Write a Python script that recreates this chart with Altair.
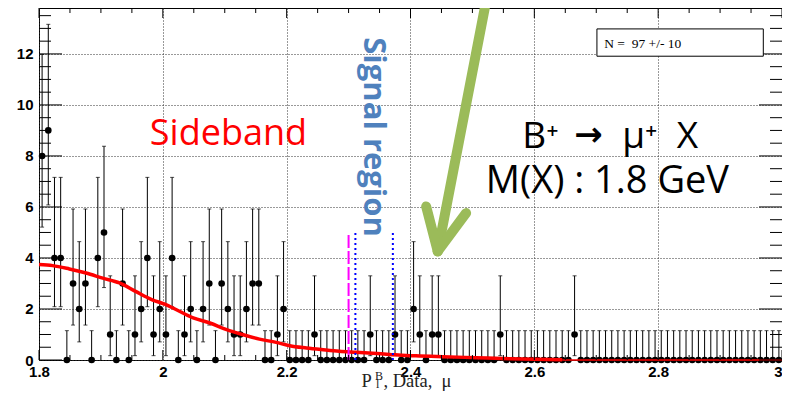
import altair as alt
import pandas as pd

# ---------------- data ----------------
bin_start = 1.8
bin_width = 0.01
counts = [
    8, 9, 4, 4, 0, 3, 2, 3, 0, 4,
    5, 1, 0, 3, 0, 1, 2, 4, 1, 2,
    1, 4, 0, 1, 2, 0, 2, 3, 0, 3,
    2, 1, 1, 2, 3, 3, 0, 0, 1, 2,
    0, 0, 0, 0, 1, 0, 0, 0, 0, 0,
    0, 0, 0, 1, 0, 0, 0, 1, 0, 0,
    2, 1, 0, 1, 1, 0, 0, 0, 0, 0,
    0, 0, 0, 0, 1, 0, 0, 0, 0, 0,
    0, 0, 0, 0, 0, 0, 1, 0, 0, 0,
    0, 0, 0, 0, 0, 0, 0, 0, 0, 0,
    0, 0, 0, 0, 0, 0, 0, 0, 0, 0,
    0, 0, 0, 0, 0, 0, 0, 0, 0, 0,
]
# Poisson error-bar ends as drawn, per count value
count_levels = [0, 1, 2, 3, 4, 5, 8, 9]
err_low_levels = [0.0, 0.17, 0.71, 1.37, 2.09, 2.84, 5.21, 6.08]
err_high_levels = [1.15, 3.30, 4.64, 5.92, 7.16, 8.38, 11.98, 13.16]

fit_x = [1.800, 1.822, 1.849, 1.876, 1.903, 1.930, 1.956, 1.983, 2.003, 2.022,
         2.049, 2.076, 2.103, 2.130, 2.156, 2.183, 2.205, 2.232, 2.259, 2.285,
         2.312, 2.339, 2.366, 2.393, 2.415, 2.452, 2.506, 2.560, 2.645]
fit_y = [3.74, 3.70, 3.57, 3.41, 3.21, 3.02, 2.69, 2.36, 2.19, 1.97,
         1.65, 1.45, 1.19, 0.99, 0.82, 0.69, 0.56, 0.47, 0.40, 0.34,
         0.30, 0.26, 0.22, 0.18, 0.16, 0.13, 0.09, 0.05, 0.01]
tail_x = [2.645, 3.0]
tail_y = [0.0, 0.0]

signal_x = [2.300, 2.311, 2.3715]
signal_kind = ["magenta", "blue", "blue"]
signal_top = 5.0

x_major = [1.8, 2.0, 2.2, 2.4, 2.6, 2.8, 3.0]
x_minor = [1.85, 1.9, 1.95, 2.05, 2.1, 2.15, 2.25, 2.3, 2.35, 2.45, 2.5, 2.55,
           2.65, 2.7, 2.75, 2.85, 2.9, 2.95]
y_major = [0, 2, 4, 6, 8, 10, 12]
y_minor = [0.5, 1, 1.5, 2.5, 3, 3.5, 4.5, 5, 5.5, 6.5, 7, 7.5, 8.5, 9, 9.5,
           10.5, 11, 11.5, 12.5, 13, 13.5]

# ---------------- tables ----------------
lo_map = dict(zip(count_levels, err_low_levels))
hi_map = dict(zip(count_levels, err_high_levels))
hist = pd.DataFrame({
    "x": [bin_start + bin_width * (i + 0.5) for i in range(len(counts))],
    "n": counts,
})
hist["lo"] = [lo_map[c] for c in counts]
hist["hi"] = [hi_map[c] for c in counts]

fit = pd.DataFrame({"x": fit_x, "y": fit_y})
tail = pd.DataFrame({"x": tail_x, "y": tail_y})
sig = pd.DataFrame({"x": signal_x, "kind": signal_kind, "y0": 0.0, "y1": signal_top})

W, H = 743, 352
xs = alt.Scale(domain=[1.8, 3.0], nice=False, zero=False)
ys = alt.Scale(domain=[0, 13.8], nice=False, zero=False)

xaxis = alt.Axis(values=x_major, format="~g", labelFont="Liberation Sans",
                 labelFontWeight="bold", labelFontSize=15, labelColor="black",
                 labelAlign=alt.expr("datum.value >= 3 ? 'right' : 'center'"),
                 ticks=False, domain=False, grid=True, gridDash=[1, 2],
                 gridColor="#333", gridWidth=1, labelPadding=4, labelFlush=False)
yaxis = alt.Axis(values=y_major, labelFont="Liberation Sans",
                 labelFontWeight="bold", labelFontSize=15, labelColor="black",
                 ticks=False, domain=False, grid=True, gridDash=[1, 2],
                 gridColor="#333", gridWidth=1, labelPadding=6)

def X(field):
    return alt.X(field, type="quantitative", scale=xs, axis=xaxis, title=None)

def Y(field):
    return alt.Y(field, type="quantitative", scale=ys, axis=yaxis, title=None)

bars = alt.Chart(hist).mark_rule(color="black", strokeWidth=1).encode(
    x=X("x"), y=Y("lo"), y2="hi:Q")
cap_hi = alt.Chart(hist).mark_tick(orient="horizontal", size=4, thickness=1, color="black").encode(
    x=X("x"), y=Y("hi"))
cap_lo = alt.Chart(hist).mark_tick(orient="horizontal", size=4, thickness=1, color="black").encode(
    x=X("x"), y=Y("lo"))
pts = alt.Chart(hist).mark_circle(size=44, color="black", opacity=1).encode(x=X("x"), y=Y("n"))

fit_line = alt.Chart(fit).mark_line(color="#ff0000", strokeWidth=3.5, interpolate="monotone").encode(
    x=X("x"), y=Y("y"))
tail_line = alt.Chart(tail).mark_line(color="#ff0000", strokeWidth=1.5).encode(x=X("x"), y=Y("y"))

mag = alt.Chart(sig[sig.kind == "magenta"]).mark_rule(color="#ff00ff", strokeWidth=2, strokeDash=[13, 3]).encode(
    x=X("x"), y=Y("y0"), y2="y1")
blu = alt.Chart(sig[sig.kind == "blue"]).mark_rule(color="#0000ff", strokeWidth=2, strokeDash=[2, 3]).encode(
    x=X("x"), y=Y("y0"), y2="y1")

# ticks inside the frame on all four sides
def yticks(vals, length):
    d = pd.DataFrame({"v": vals})
    left = alt.Chart(d).mark_rule(color="black").encode(y=Y("v"), x=alt.value(0), x2=alt.value(length))
    right = alt.Chart(d).mark_rule(color="black").encode(y=Y("v"), x=alt.value(W - length), x2=alt.value(W))
    return [left, right]

def xticks(vals, length):
    d = pd.DataFrame({"v": vals})
    bot = alt.Chart(d).mark_rule(color="black").encode(x=X("v"), y=alt.value(H), y2=alt.value(H - length))
    top = alt.Chart(d).mark_rule(color="black").encode(x=X("v"), y=alt.value(0), y2=alt.value(length))
    return [bot, top]

tick_layers = yticks(y_major, 23) + yticks(y_minor, 12) + xticks(x_major, 10) + xticks(x_minor, 5)

# annotations
def text_layer(txt, x, y, **mk):
    d = pd.DataFrame({"x": [x], "y": [y], "t": [txt]})
    return alt.Chart(d).mark_text(**mk).encode(x=X("x"), y=Y("y"), text="t:N")

NB = "\u00a0"
sideband = text_layer("Sideband", 1.979, 8.44, color="#ff0000", font="Open Sans", fontSize=36,
                      align="left", baseline="alphabetic")
signal = text_layer("Signal region", 2.340, 8.74, color="#4f81bd", font="Open Sans", fontSize=31,
                    fontWeight="bold", angle=90, align="center", baseline="middle")
decay_b = text_layer("B\u207a", 2.5806, 8.33, color="black", font="Open Sans", fontSize=37,
                     align="left", baseline="alphabetic")
decay_arrow = text_layer("\u2192", 2.6645, 8.40, color="black", font="DejaVu Sans", fontSize=34,
                         fontWeight="bold", align="left", baseline="alphabetic")
decay_mu = text_layer("\u03bc\u207a" + NB + NB + "X", 2.7419, 8.33, color="black", font="Open Sans",
                      fontSize=37, align="left", baseline="alphabetic")
mass = text_layer("M(X) : 1.8 GeV", 2.718, 6.56, color="black", font="Open Sans", fontSize=38,
                  align="center", baseline="alphabetic")

box_df = pd.DataFrame({"x": [2.7011], "x2": [2.9698], "y": [11.91], "y2": [12.98]})
box = alt.Chart(box_df).mark_rect(fill="white", stroke="black", strokeWidth=1).encode(
    x=X("x"), x2="x2", y=Y("y"), y2="y2")
ntext = text_layer("N =" + NB + NB + "97 +/- 10", 2.7129, 12.24, color="black", font="Liberation Serif",
                   fontSize=13.5, align="left", baseline="alphabetic")

arrow_df = pd.DataFrame({
    "x": [2.5226, 2.4253, 2.4898],
    "y": [14.13, 6.02, 5.76],
    "x2": [2.444, 2.444, 2.444],
    "y2": [4.26, 4.26, 4.26],
})
arrow = alt.Chart(arrow_df).mark_rule(color="#9bbb59", strokeWidth=10, strokeCap="round", clip=False).encode(
    x=X("x"), y=Y("y"), x2="x2", y2="y2")

# x-axis title (P_l^B, Data, mu) built from text pieces below the plot
def px_text(txt, px, py, size):
    d = pd.DataFrame({"t": [txt]})
    return alt.Chart(d).mark_text(font="Liberation Serif", fontSize=size, color="#222",
                                  align="left", baseline="alphabetic").encode(
        x=alt.value(px), y=alt.value(py), text="t:N")

title_layers = [
    px_text("P", 322.5, 378.5, 18.5),
    px_text("B", 336, 371.5, 12),
    px_text("l", 337, 380, 12),
    px_text("," + NB + "Data," + NB + NB + "\u03bc", 344.5, 378.5, 18.5),
]

chart = alt.layer(
    bars, cap_hi, cap_lo, pts, fit_line, tail_line, mag, blu,
    *tick_layers, sideband, signal, decay_b, decay_arrow, decay_mu, mass, box, ntext, arrow,
    *title_layers,
).properties(
    width=W, height=H,
    autosize=alt.AutoSizeParams(type="none"),
    padding={"left": 31, "top": 0, "right": 0, "bottom": 31},
    background="white",
).configure_view(stroke="black", strokeWidth=1)

chart.save("out.html", embed_options={"renderer": "svg", "actions": False})
